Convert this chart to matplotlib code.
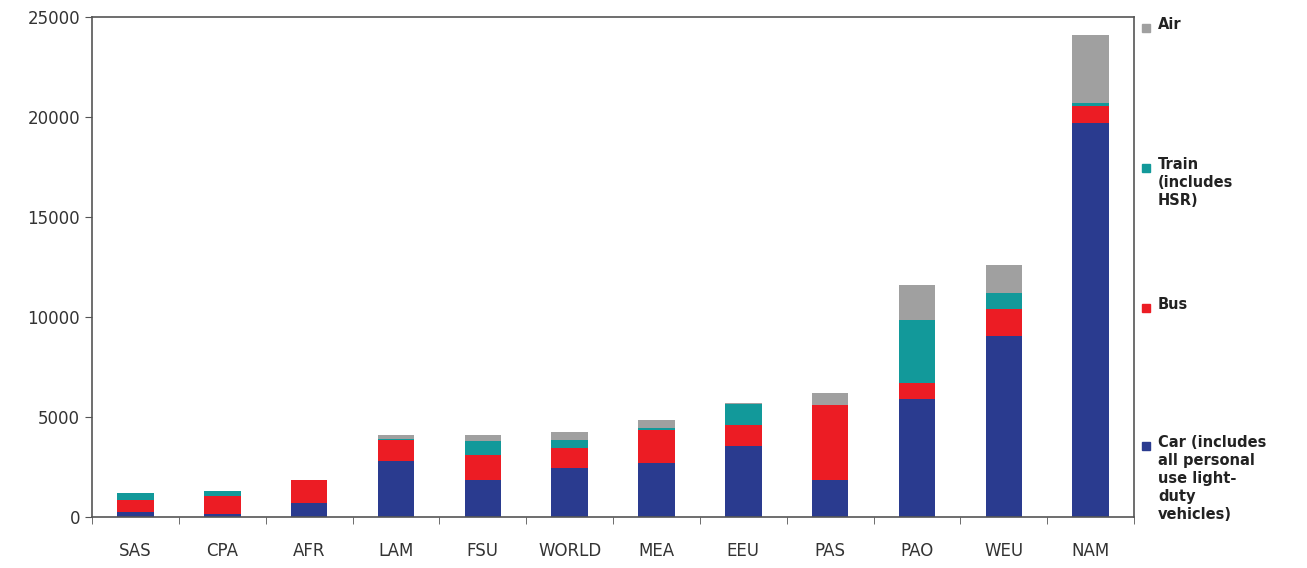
import matplotlib.pyplot as plt
import numpy as np

regions = ["SAS", "CPA", "AFR", "LAM", "FSU", "WORLD", "MEA", "EEU", "PAS", "PAO", "WEU", "NAM"]
car = [250, 150, 700, 2800, 1850, 2450, 2700, 3550, 1850, 5900, 9050, 19700]
bus = [600, 900, 1150, 1050, 1250, 1000, 1650, 1050, 3750, 800, 1350, 850]
train = [350, 250, 0, 50, 700, 400, 100, 1050, 0, 3150, 800, 150]
air = [0, 0, 0, 200, 300, 400, 400, 50, 600, 1750, 1400, 3400]

modes = ["Car (includes\nall personal\nuse light-\nduty\nvehicles)", "Bus", "Train\n(includes\nHSR)", "Air"]
colors = ["#2a3b8f", "#ec1c24", "#12999a", "#a0a0a0"]

fig = plt.figure(figsize=(13.07, 5.68), dpi=100)
ax = fig.add_axes([0.0704, 0.0898, 0.7973, 0.880])

x = np.arange(len(regions))
bottom = np.zeros(len(regions))
for vals, c in zip([car, bus, train, air], colors):
    ax.bar(x, vals, width=0.42, bottom=bottom, color=c, linewidth=0)
    bottom += np.array(vals)

ax.set_xlim(-0.5, len(regions) - 0.5)
ax.set_ylim(0, 25000)
ax.set_yticks(range(0, 25001, 5000))
ax.set_xticks(x)
ax.set_xticklabels(regions)
ax.set_xticks(np.arange(-0.5, len(regions)), minor=True)
ax.tick_params(axis='x', which='major', length=0, pad=18, labelsize=12, labelcolor='#333333')
ax.tick_params(axis='x', which='minor', length=5, direction='out', color='#555555')
ax.tick_params(axis='y', length=5, direction='out', labelsize=12, labelcolor='#333333', color='#555555')
for s in ax.spines.values():
    s.set_color('#555555')
    s.set_linewidth(1.2)

# legend placed down the right side
ypos = [25, 165, 305, 443]
labels = [modes[3], modes[2], modes[1], modes[0]]
cols = [colors[3], colors[2], colors[1], colors[0]]
for y, lab, c in zip(ypos, labels, cols):
    fy = 1 - y / 568
    fig.patches.append(plt.Rectangle((1142 / 1307, fy - 0.012), 8 / 1307, 8 / 568,
                                     transform=fig.transFigure, color=c, figure=fig))
    fig.text(1158 / 1307, fy + 0.014, lab, fontsize=10.5, fontweight='bold',
             va='top', ha='left', color='#222222', linespacing=1.25)

plt.savefig('out.png', dpi=100)
